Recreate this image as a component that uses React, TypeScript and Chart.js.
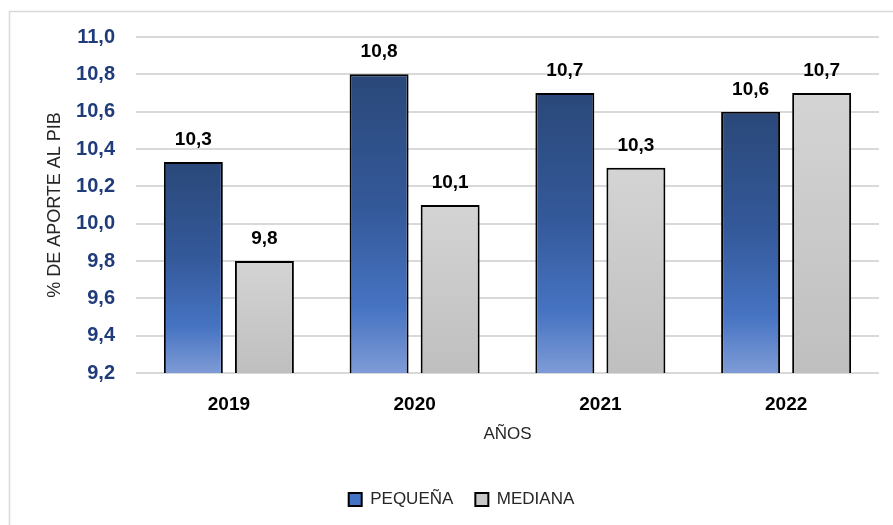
import React, { useEffect, useRef } from "react";
import { Chart, registerables } from "chart.js";

Chart.register(...registerables);

const categories = ["2019", "2020", "2021", "2022"];
const pequena = [10.33, 10.8, 10.7, 10.6];
const mediana = [9.8, 10.1, 10.3, 10.7];
const seriesNames = ["PEQUEÑA", "MEDIANA"];
const yMin = 9.2;
const yMax = 11.0;
const yStep = 0.2;

const FONT = '"Liberation Sans", Arial, sans-serif';
const fmt = (v: number) => v.toFixed(1).replace(".", ",");

const blueStops: [number, string][] = [
  [0, "#2a4879"],
  [0.45, "#34599a"],
  [0.78, "#4673c2"],
  [1, "#7e9bd6"],
];
const grayStops: [number, string][] = [
  [0, "#d4d4d4"],
  [1, "#bfbfbf"],
];

function barGradient(stops: [number, string][], fallback: string) {
  return (ctx: any) => {
    const chart = ctx.chart;
    if (!chart.chartArea || ctx.type !== "data") return fallback;
    const y = chart.scales.y;
    const top = y.getPixelForValue(ctx.raw);
    const bottom = y.getPixelForValue(y.min);
    if (!isFinite(top) || !isFinite(bottom) || bottom - top < 1) return fallback;
    const g = chart.ctx.createLinearGradient(0, top, 0, bottom);
    stops.forEach(([o, c]) => g.addColorStop(o, c));
    return g;
  };
}

const frame = {
  id: "frame",
  beforeDraw(chart: any) {
    const { ctx, width, height } = chart;
    ctx.save();
    ctx.fillStyle = "#ffffff";
    ctx.fillRect(0, 0, width, height);
    ctx.strokeStyle = "#d9d9d9";
    ctx.lineWidth = 1.5;
    ctx.beginPath();
    ctx.moveTo(9.5, height);
    ctx.lineTo(9.5, 11.5);
    ctx.lineTo(width, 11.5);
    ctx.stroke();
    ctx.restore();
  },
};

const valueLabels = {
  id: "valueLabels",
  afterDatasetsDraw(chart: any) {
    const { ctx } = chart;
    ctx.save();
    ctx.font = `bold 19px ${FONT}`;
    ctx.fillStyle = "#000000";
    ctx.textAlign = "center";
    ctx.textBaseline = "alphabetic";
    chart.data.datasets.forEach((ds: any, i: number) => {
      chart.getDatasetMeta(i).data.forEach((bar: any, j: number) => {
        ctx.fillText(fmt(ds.data[j]), bar.x, bar.y - 17);
      });
    });
    ctx.restore();
  },
};

export default function App() {
  const ref = useRef<HTMLCanvasElement>(null);

  useEffect(() => {
    if (!ref.current) return;
    const legendFill = ["#4472c4", "#c8c8c8"];
    const chart = new Chart(ref.current, {
      type: "bar",
      data: {
        labels: categories,
        datasets: [
          {
            label: seriesNames[0],
            data: pequena,
            backgroundColor: barGradient(blueStops, "#4472c4"),
            borderColor: "#000000",
            borderWidth: 2,
            categoryPercentage: 0.765,
            barPercentage: 0.83,
          },
          {
            label: seriesNames[1],
            data: mediana,
            backgroundColor: barGradient(grayStops, "#c8c8c8"),
            borderColor: "#000000",
            borderWidth: 2,
            categoryPercentage: 0.765,
            barPercentage: 0.83,
          },
        ],
      },
      options: {
        responsive: false,
        animation: false,
        devicePixelRatio: 1,
        layout: { padding: { left: 44, right: 14, top: 37, bottom: 7 } },
        plugins: {
          tooltip: { enabled: false },
          legend: {
            position: "bottom",
            labels: {
              font: { family: FONT, size: 17 },
              color: "#262626",
              boxWidth: 13,
              boxHeight: 13,
              padding: 22,
              generateLabels: (c: any) => {
                const items = (Chart.defaults.plugins.legend.labels as any).generateLabels(c);
                items.forEach((it: any, i: number) => {
                  it.fillStyle = legendFill[i];
                  it.strokeStyle = "#000000";
                  it.lineWidth = 2;
                });
                return items;
              },
            },
          },
        },
        scales: {
          x: {
            grid: { display: false, drawTicks: false },
            border: { display: false },
            ticks: {
              font: { family: FONT, size: 19, weight: "bold" },
              color: "#000000",
              padding: 20,
            },
            title: {
              display: true,
              text: "AÑOS",
              font: { family: FONT, size: 17 },
              color: "#262626",
              padding: { top: 0, bottom: 24 },
            },
            afterFit: (s: any) => {
              s.height = 96;
            },
          },
          y: {
            min: yMin,
            max: yMax,
            grid: { color: "#d9d9d9", lineWidth: 2, drawTicks: false },
            border: { display: false },
            ticks: {
              stepSize: yStep,
              font: { family: FONT, size: 20, weight: "bold" },
              color: "#1f3b7a",
              padding: 21,
              callback: (v: any) => fmt(Number(v)),
            },
            title: {
              display: true,
              text: "% DE APORTE AL PIB",
              font: { family: FONT, size: 18 },
              color: "#262626",
              padding: { top: 0, bottom: 0 },
            },
            afterFit: (s: any) => {
              s.width = 92;
            },
          },
        },
      },
      plugins: [frame, valueLabels],
    });
    return () => chart.destroy();
  }, []);

  return (
    <div style={{ position: "fixed", left: 0, top: 0, width: 893, height: 525 }}>
      <canvas ref={ref} width={893} height={525} />
    </div>
  );
}
